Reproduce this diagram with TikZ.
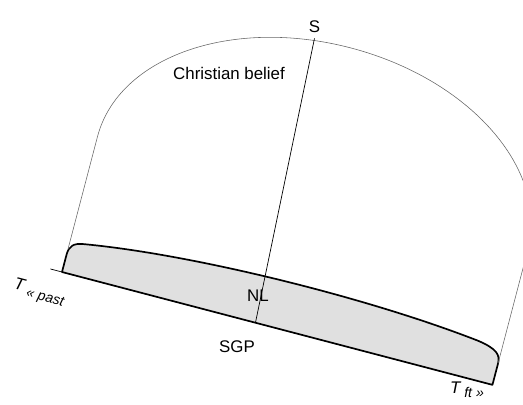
\documentclass[tikz,border=0pt]{standalone}
\usepackage{fontspec}
\setmainfont{Liberation Sans}
\usetikzlibrary{positioning}

\newcommand{\timesub}[1]{\raisebox{-0.5ex}{\fontsize{10}{12}\selectfont\itshape #1}}

\begin{document}
\begin{tikzpicture}[x=0.025cm, y=-0.025cm, node distance=3pt]
    \tikzstyle{lbl} = [inner sep=1pt, font=\fontsize{12}{14}\selectfont]
    \tikzstyle{band} = [draw, line width=1.2pt, fill=black!12, line join=round]
    \tikzstyle{dome} = [draw=black!60, line width=0.4pt]
    \tikzstyle{line} = [draw, line width=0.5pt]

    \clip (0,0) rectangle (523,404);

    \begin{scope}[shift={(62,272)}, rotate=-14.69, y=0.025cm]
        % Time axis
        \coordinate (tpast) at (-12,0);
        \coordinate (tft) at (445,0);
        \draw[line] (tpast) -- (tft);

        % Band
        \draw[band] (0,0) -- (0,18) .. controls (0,27) and (4,31) .. (14,32.5)
            .. controls (120,50) and (300,53) .. (420,39)
            .. controls (440,36) and (445,31) .. (445,22) -- (445,0) -- cycle;

        % Dome
        \draw[dome] (0,24) -- (0,140)
            arc[start angle=180, end angle=0, x radius=222.5, y radius=150] -- (445,22);

        % S -- NL line
        \coordinate (top) at (185,290);
        \coordinate (foot) at (200,0);
        \draw[line] (top) -- (foot);
    \end{scope}

    % Labels
    \node[lbl, above=of top] (s) {S};
    \node[lbl] (belief) at (229,73) {Christian belief};
    \node[lbl] (nl) at (258,296) {NL};
    \node[lbl] (sgp) at (237,347) {SGP};
    \node[lbl, rotate=-14.7] (tpastlbl) at (39,293) {\textit{T}\,\timesub{« past}};
    \node[lbl] (tftlbl) at (467,390) {\textit{T}\,\timesub{ft »}};
\end{tikzpicture}
\end{document}
